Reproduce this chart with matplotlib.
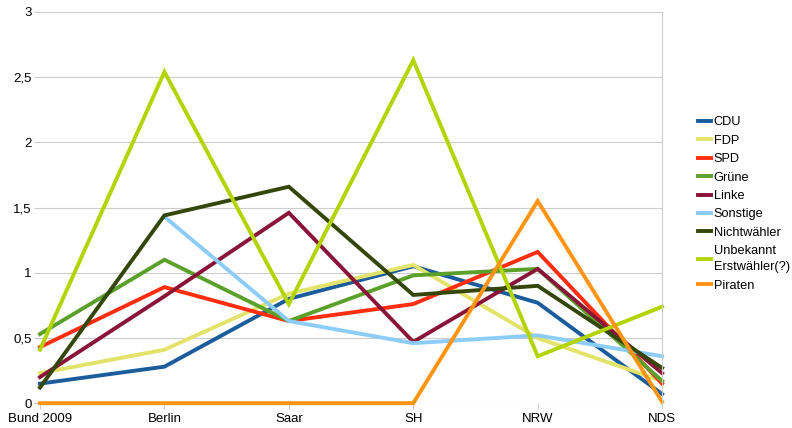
import numpy as np
import matplotlib.pyplot as plt

plt.rcParams['font.family'] = ['Liberation Sans', 'DejaVu Sans']

categories = ["Bund 2009", "Berlin", "Saar", "SH", "NRW", "NDS"]
cdu = [0.15, 0.28, 0.80, 1.05, 0.77, 0.07]
fdp = [0.23, 0.41, 0.84, 1.06, 0.50, 0.17]
spd = [0.43, 0.89, 0.63, 0.76, 1.16, 0.15]
gruene = [0.53, 1.10, 0.63, 0.98, 1.03, 0.17]
linke = [0.20, 0.82, 1.46, 0.47, 1.03, 0.23]
sonstige = [np.nan, 1.43, 0.63, 0.46, 0.52, 0.36]
nichtwaehler = [0.12, 1.44, 1.66, 0.83, 0.90, 0.27]
unbekannt = [0.41, 2.54, 0.76, 2.63, 0.36, 0.74]
piraten = [0.0, 0.0, 0.0, 0.0, 1.55, 0.01]

series = [
    ("CDU", cdu, "#1a5c9c"),
    ("FDP", fdp, "#e3e36a"),
    ("SPD", spd, "#ff2d10"),
    ("Grüne", gruene, "#5ba02a"),
    ("Linke", linke, "#8a1438"),
    ("Sonstige", sonstige, "#8cccf8"),
    ("Nichtwähler", nichtwaehler, "#34460a"),
    ("Unbekannt\nErstwähler(?)", unbekannt, "#b2d400"),
    ("Piraten", piraten, "#ff9412"),
]

fig = plt.figure(figsize=(7.92, 4.28), dpi=100)
ax = fig.add_axes([0.0505, 0.058, 0.7855, 0.914])

x = np.arange(len(categories))
for name, vals, col in series:
    ax.plot(x, vals, color=col, lw=2.8, label=name, solid_joinstyle='miter', clip_on=False)

ax.set_xlim(0, len(categories) - 1)
ax.set_ylim(0, 3)
ax.set_yticks([0, 0.5, 1, 1.5, 2, 2.5, 3])
ax.set_yticklabels(["0", "0,5", "1", "1,5", "2", "2,5", "3"], fontsize=9.5)
ax.set_xticks(x)
ax.set_xticklabels(categories, fontsize=9.5)
ax.grid(axis='y', color='#cccccc', lw=0.8)
ax.set_axisbelow(True)
for s in ['top', 'left', 'bottom']:
    ax.spines[s].set_visible(False)
ax.spines['right'].set_color('#cccccc')
ax.tick_params(axis='y', length=4, color='#cccccc', pad=2)
ax.tick_params(axis='x', length=4, color='#cccccc', pad=3)

leg = ax.legend(loc='center left', bbox_to_anchor=(1.05, 0.509), frameon=False,
                fontsize=9.2, handlelength=1.0, handletextpad=0.2, labelspacing=0.5,
                borderaxespad=0)
for t in leg.get_texts():
    t.set_linespacing(1.45)

fig.savefig("out.png", dpi=100)
